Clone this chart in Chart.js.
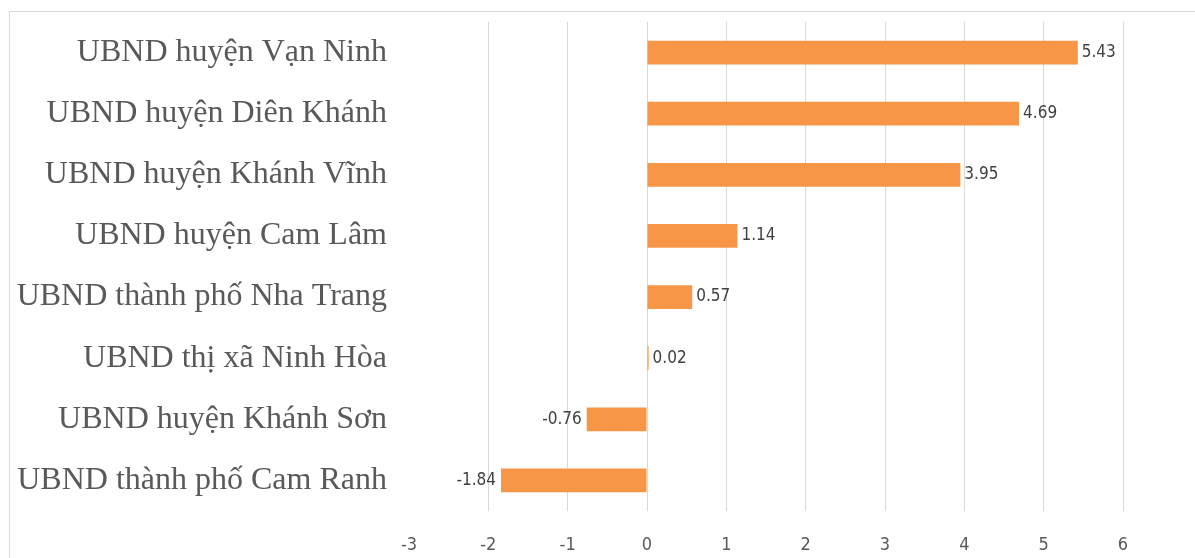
<!DOCTYPE html>
<html>
<head>
<meta charset="utf-8">
<script src="https://cdn.jsdelivr.net/npm/chart.js@4"></script>
<style>
  html, body { margin: 0; padding: 0; background: #fff; overflow: hidden; }
  #frame { position: absolute; left: 9px; top: 11px; width: 1300px; height: 700px; border: 1px solid #d9d9d9; }
  #wrap { position: absolute; left: 0; top: 0; width: 1195px; height: 558px; }
</style>
</head>
<body>
<div id="frame"></div>
<div id="wrap"><canvas id="rankChart"></canvas></div>
<script>
var unitNames = [
  'UBND huyện Vạn Ninh',
  'UBND huyện Diên Khánh',
  'UBND huyện Khánh Vĩnh',
  'UBND huyện Cam Lâm',
  'UBND thành phố Nha Trang',
  'UBND thị xã Ninh Hòa',
  'UBND huyện Khánh Sơn',
  'UBND thành phố Cam Ranh'
];
var unitScores = [5.43, 4.69, 3.95, 1.14, 0.57, 0.02, -0.76, -1.84];
var xTickValues = [-3, -2, -1, 0, 1, 2, 3, 4, 5, 6];

// values written next to each bar
var valueLabels = {
  id: 'valueLabels',
  afterDatasetsDraw: function (chart) {
    var ctx = chart.ctx;
    var meta = chart.getDatasetMeta(0);
    ctx.save();
    ctx.font = '17px "DejaVu Sans Condensed", "Liberation Sans Narrow", sans-serif';
    ctx.fillStyle = '#404040';
    ctx.textBaseline = 'middle';
    meta.data.forEach(function (bar, i) {
      var v = unitScores[i];
      if (v < 0) {
        ctx.textAlign = 'right';
        ctx.fillText(v.toFixed(2), bar.x - 5, bar.y);
      } else {
        ctx.textAlign = 'left';
        ctx.fillText(v.toFixed(2), bar.x + 4, bar.y);
      }
    });
    ctx.restore();
  }
};

var ctx = document.getElementById('rankChart').getContext('2d');
var rankChart = new Chart(ctx, {
  type: 'bar',
  data: {
    labels: unitNames,
    datasets: [{
      data: unitScores,
      backgroundColor: 'rgb(247, 150, 70)',
      borderWidth: 0,
      barPercentage: 0.39,
      categoryPercentage: 1
    }]
  },
  options: {
    indexAxis: 'y',
    responsive: true,
    maintainAspectRatio: false,
    animation: false,
    layout: { padding: { left: 0, right: 72, top: 22, bottom: 0 } },
    plugins: {
      legend: { display: false },
      tooltip: { enabled: false }
    },
    scales: {
      x: {
        min: -3,
        max: 6,
        afterBuildTicks: function (scale) {
          scale.ticks = xTickValues.map(function (v) { return { value: v }; });
        },
        afterFit: function (scale) {
          scale.height = 47;
          scale.paddingLeft = 0;
          scale.paddingRight = 0;
        },
        border: { display: false },
        grid: {
          drawTicks: false,
          color: function (c) { return c.tick && c.tick.value === -3 ? 'rgba(0,0,0,0)' : '#d9d9d9'; },
          lineWidth: 1
        },
        ticks: {
          padding: 24,
          color: '#595959',
          font: { family: '"DejaVu Sans Condensed", "Liberation Sans Narrow", sans-serif', size: 18 }
        }
      },
      y: {
        afterFit: function (scale) {
          scale.width = 409;
          scale.paddingTop = 0;
          scale.paddingBottom = 0;
        },
        border: { display: false },
        grid: { display: false, drawTicks: false },
        ticks: {
          padding: 22,
          color: '#595959',
          font: { family: '"Liberation Serif", "Times New Roman", serif', size: 32 }
        }
      }
    }
  },
  plugins: [valueLabels]
});
</script>
</body>
</html>
